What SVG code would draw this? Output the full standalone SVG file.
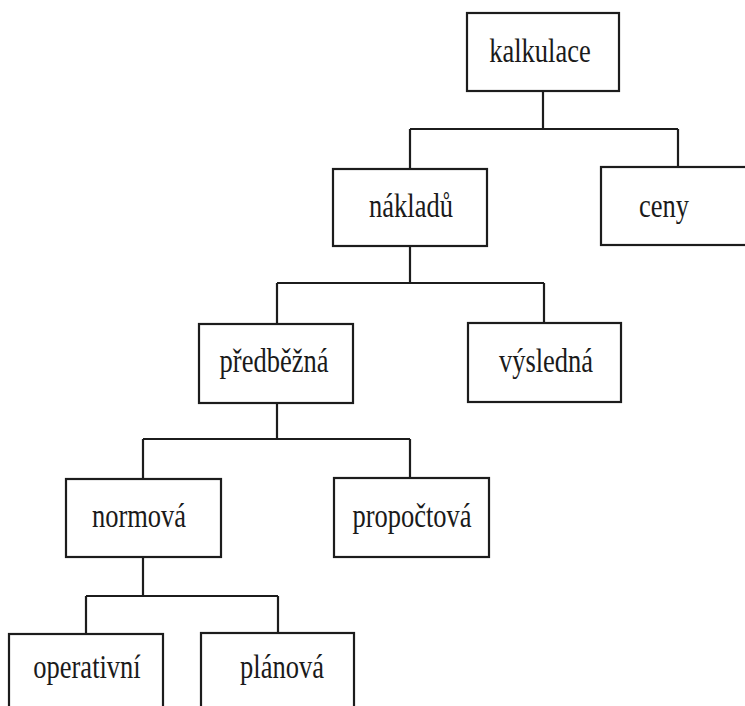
<svg xmlns="http://www.w3.org/2000/svg" width="745" height="706" viewBox="0 0 745 706">
  <style>
    .box { fill: none; stroke: #1c1c1c; stroke-width: 2.2; }
    .link { fill: none; stroke: #1c1c1c; stroke-width: 2.2; }
    .lbl { font-family: "Liberation Serif", "Times New Roman", serif; font-size: 26.5px; fill: #1a1a1a; text-anchor: middle; }
  </style>
  <rect width="745" height="706" fill="#ffffff"/>

  <!-- tree connectors -->
  <g id="connectors">
    <path class="link" d="M543 91 V129 M410 129 H678 M410 129 V169 M678 129 V167"/>
    <path class="link" d="M410 246 V283 M277 283 H544 M277 283 V324 M544 283 V323"/>
    <path class="link" d="M277 403 V439 M143 439 H410 M143 439 V479 M410 439 V478"/>
    <path class="link" d="M143 557 V596 M86 596 H278 M86 596 V634 M278 596 V633"/>
  </g>

  <g id="kalkulace">
    <rect class="box" x="467" y="13" width="152" height="78"/>
    <text class="lbl" transform="translate(540 62) scale(1 1.25)">kalkulace</text>
  </g>
  <g id="nakladu">
    <rect class="box" x="333" y="169" width="154" height="77"/>
    <text class="lbl" transform="translate(411 217) scale(1 1.25)">nákladů</text>
  </g>
  <g id="ceny">
    <rect class="box" x="601" y="167" width="158" height="78"/>
    <text class="lbl" transform="translate(664 217) scale(1 1.25)">ceny</text>
  </g>
  <g id="predbezna">
    <rect class="box" x="199" y="324" width="154" height="79"/>
    <text class="lbl" transform="translate(274 372) scale(1 1.25)">předběžná</text>
  </g>
  <g id="vysledna">
    <rect class="box" x="468" y="323" width="153" height="79"/>
    <text class="lbl" transform="translate(546 372) scale(1 1.25)">výsledná</text>
  </g>
  <g id="normova">
    <rect class="box" x="66" y="479" width="155" height="78"/>
    <text class="lbl" transform="translate(139 527) scale(1 1.25)">normová</text>
  </g>
  <g id="propoctova">
    <rect class="box" x="334" y="478" width="155" height="79"/>
    <text class="lbl" transform="translate(412 527) scale(1 1.25)">propočtová</text>
  </g>
  <g id="operativni">
    <rect class="box" x="9" y="634" width="154" height="90"/>
    <text class="lbl" transform="translate(87 678) scale(1 1.25)">operativní</text>
  </g>
  <g id="planova">
    <rect class="box" x="201" y="633" width="153" height="90"/>
    <text class="lbl" transform="translate(282 678) scale(1 1.25)">plánová</text>
  </g>
</svg>
